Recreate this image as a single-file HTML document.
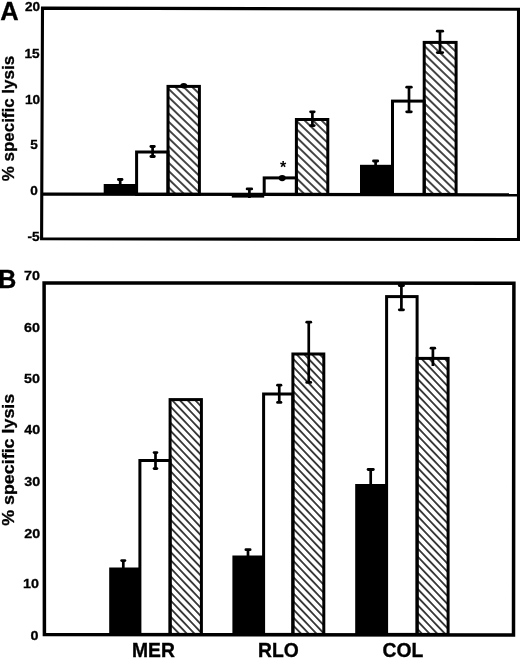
<!DOCTYPE html>
<html><head><meta charset="utf-8"><title>Figure</title>
<style>html,body{margin:0;padding:0;background:#fff}svg{display:block}text{font-family:"Liberation Sans",Arial,Helvetica,sans-serif;font-weight:bold;fill:#000}</style></head><body>
<svg width="520" height="660" viewBox="0 0 520 660">
<defs>
<pattern id="h1" width="5.9" height="5.9" patternUnits="userSpaceOnUse" patternTransform="translate(169.5 89.7) rotate(44)"><rect x="0" y="-0.72" width="5.9" height="1.45" fill="#000"/><rect x="0" y="5.18" width="5.9" height="1.45" fill="#000"/></pattern>
<pattern id="h2" width="5.9" height="5.9" patternUnits="userSpaceOnUse" patternTransform="translate(298.3 122.6) rotate(44)"><rect x="0" y="-0.72" width="5.9" height="1.45" fill="#000"/><rect x="0" y="5.18" width="5.9" height="1.45" fill="#000"/></pattern>
<pattern id="h3" width="5.9" height="5.9" patternUnits="userSpaceOnUse" patternTransform="translate(426.3 47.8) rotate(44)"><rect x="0" y="-0.72" width="5.9" height="1.45" fill="#000"/><rect x="0" y="5.18" width="5.9" height="1.45" fill="#000"/></pattern>
<pattern id="h4" width="5.57" height="5.57" patternUnits="userSpaceOnUse" patternTransform="translate(171.6 407.7) rotate(46.4)"><rect x="0" y="-0.72" width="5.57" height="1.45" fill="#000"/><rect x="0" y="4.85" width="5.57" height="1.45" fill="#000"/></pattern>
<pattern id="h5" width="5.57" height="5.57" patternUnits="userSpaceOnUse" patternTransform="translate(294.4 545.9) rotate(46.4)"><rect x="0" y="-0.72" width="5.57" height="1.45" fill="#000"/><rect x="0" y="4.85" width="5.57" height="1.45" fill="#000"/></pattern>
<pattern id="h6" width="5.57" height="5.57" patternUnits="userSpaceOnUse" patternTransform="translate(418.6 573.7) rotate(46.4)"><rect x="0" y="-0.72" width="5.57" height="1.45" fill="#000"/><rect x="0" y="4.85" width="5.57" height="1.45" fill="#000"/></pattern>
</defs>
<rect width="520" height="660" fill="#fff"/>
<g id="panelA">
<rect x="103.7" y="184" width="32.9" height="10.4" fill="#000"/>
<rect x="136.6" y="152" width="31.4" height="42.4" fill="#fff" stroke="#000" stroke-width="3"/>
<rect x="168" y="86.4" width="31.4" height="108" fill="url(#h1)" stroke="#000" stroke-width="3"/>
<rect x="231.8" y="194.4" width="32.4" height="3.2" fill="#000"/>
<rect x="264.2" y="177.9" width="32.2" height="16.5" fill="#fff" stroke="#000" stroke-width="3"/>
<rect x="296.4" y="119.5" width="31.4" height="74.9" fill="url(#h2)" stroke="#000" stroke-width="3"/>
<rect x="360" y="164.8" width="32.5" height="29.6" fill="#000"/>
<rect x="392.5" y="101.1" width="31.7" height="93.3" fill="#fff" stroke="#000" stroke-width="3"/>
<rect x="424.2" y="42.4" width="31.9" height="152" fill="url(#h3)" stroke="#000" stroke-width="3"/>
<polygon points="42.5,8.1 518.5,9.2 518.5,239.5 41.6,238.8" fill="none" stroke="#000" stroke-width="3.1"/>
<line x1="42.5" y1="194.1" x2="518.5" y2="194.8" stroke="#000" stroke-width="3.3"/>
<line x1="120.2" y1="179.5" x2="120.2" y2="185" stroke="#000" stroke-width="2.7"/>
<rect x="117" y="178.1" width="6.4" height="2.8" rx="1.4" ry="1.4" fill="#000"/>
<line x1="152.6" y1="146.5" x2="152.6" y2="156.5" stroke="#000" stroke-width="2.7"/>
<rect x="149.5" y="145.1" width="6.2" height="2.8" rx="1.4" ry="1.4" fill="#000"/>
<rect x="149.5" y="155.1" width="6.2" height="2.8" rx="1.4" ry="1.4" fill="#000"/>
<ellipse cx="183.75" cy="85.8" rx="3.5" ry="2.75" fill="#000"/>
<line x1="249.4" y1="188.9" x2="249.4" y2="198" stroke="#000" stroke-width="2.7"/>
<rect x="245.7" y="187.5" width="7.4" height="2.8" rx="1.4" ry="1.4" fill="#000"/>
<ellipse cx="282.2" cy="178.1" rx="3.5" ry="3.15" fill="#000"/>
<line x1="312.4" y1="111.8" x2="312.4" y2="125.6" stroke="#000" stroke-width="2.7"/>
<rect x="309.2" y="110.4" width="6.4" height="2.8" rx="1.4" ry="1.4" fill="#000"/>
<rect x="309.2" y="124.2" width="6.4" height="2.8" rx="1.4" ry="1.4" fill="#000"/>
<line x1="375.6" y1="161" x2="375.6" y2="166" stroke="#000" stroke-width="2.7"/>
<rect x="372.1" y="159.6" width="7" height="2.8" rx="1.4" ry="1.4" fill="#000"/>
<line x1="409" y1="87.2" x2="409" y2="111.8" stroke="#000" stroke-width="2.7"/>
<rect x="405.3" y="85.8" width="7.4" height="2.8" rx="1.4" ry="1.4" fill="#000"/>
<rect x="405.3" y="110.4" width="7.4" height="2.8" rx="1.4" ry="1.4" fill="#000"/>
<line x1="440" y1="31.2" x2="440" y2="52.6" stroke="#000" stroke-width="2.7"/>
<rect x="435.9" y="29.8" width="8.2" height="2.8" rx="1.4" ry="1.4" fill="#000"/>
<rect x="435.9" y="51.2" width="8.2" height="2.8" rx="1.4" ry="1.4" fill="#000"/>
<text x="283.1" y="172.9" font-size="16" text-anchor="middle">*</text>
<text x="0.2" y="19.7" font-size="25.5" stroke="#000" stroke-width="0.3">A</text>
<text transform="translate(40.1 10.86) scale(1.08 1)" font-size="12.6" text-anchor="end" stroke="#000" stroke-width="0.3">20</text>
<text transform="translate(39.6 57.61) scale(1.08 1)" font-size="12.6" text-anchor="end" stroke="#000" stroke-width="0.3">15</text>
<text transform="translate(40.1 104.01) scale(1.08 1)" font-size="12.6" text-anchor="end" stroke="#000" stroke-width="0.3">10</text>
<text transform="translate(37.8 149.21) scale(1.08 1)" font-size="12.6" text-anchor="end" stroke="#000" stroke-width="0.3">5</text>
<text transform="translate(37.9 195.31) scale(1.08 1)" font-size="12.6" text-anchor="end" stroke="#000" stroke-width="0.3">0</text>
<text transform="translate(39.5 241.21) scale(1.08 1)" font-size="12.6" text-anchor="end" stroke="#000" stroke-width="0.3">-5</text>
<text transform="translate(14.2 118.6) rotate(-90) scale(1.035 1)" font-size="16.4" text-anchor="middle" stroke="#000" stroke-width="0.3">% specific lysis</text>
</g>
<g id="panelB">
<rect x="109.2" y="567.5" width="30.7" height="66.9" fill="#000"/>
<rect x="139.9" y="460.5" width="30.2" height="173.9" fill="#fff" stroke="#000" stroke-width="3"/>
<rect x="170.1" y="399.6" width="31.3" height="234.8" fill="url(#h4)" stroke="#000" stroke-width="3"/>
<rect x="232.4" y="555.5" width="31.2" height="78.9" fill="#000"/>
<rect x="263.6" y="394" width="29.3" height="240.4" fill="#fff" stroke="#000" stroke-width="3"/>
<rect x="292.9" y="354" width="30.9" height="280.4" fill="url(#h5)" stroke="#000" stroke-width="3"/>
<rect x="355.2" y="484" width="31.4" height="150.4" fill="#000"/>
<rect x="386.6" y="296.6" width="30.5" height="337.8" fill="#fff" stroke="#000" stroke-width="3"/>
<rect x="417.1" y="358.4" width="31" height="276" fill="url(#h6)" stroke="#000" stroke-width="3"/>
<polygon points="44.1,282.9 513.9,283.3 513.5,635.1 44.4,634.6" fill="none" stroke="#000" stroke-width="3.5"/>
<line x1="123.3" y1="560.6" x2="123.3" y2="568" stroke="#000" stroke-width="2.7"/>
<rect x="120.3" y="559.2" width="6" height="2.8" rx="1.4" ry="1.4" fill="#000"/>
<line x1="155.5" y1="452.6" x2="155.5" y2="468.6" stroke="#000" stroke-width="2.7"/>
<rect x="152.7" y="451.2" width="5.6" height="2.8" rx="1.4" ry="1.4" fill="#000"/>
<rect x="152.7" y="467.2" width="5.6" height="2.8" rx="1.4" ry="1.4" fill="#000"/>
<line x1="248" y1="549.7" x2="248" y2="556.5" stroke="#000" stroke-width="2.7"/>
<rect x="244.5" y="548.3" width="7" height="2.8" rx="1.4" ry="1.4" fill="#000"/>
<line x1="279.25" y1="385.2" x2="279.25" y2="402.4" stroke="#000" stroke-width="2.7"/>
<rect x="276.15" y="383.8" width="6.2" height="2.8" rx="1.4" ry="1.4" fill="#000"/>
<rect x="276.15" y="401" width="6.2" height="2.8" rx="1.4" ry="1.4" fill="#000"/>
<line x1="308.75" y1="322.2" x2="308.75" y2="382.4" stroke="#000" stroke-width="2.7"/>
<rect x="305.35" y="320.8" width="6.8" height="2.8" rx="1.4" ry="1.4" fill="#000"/>
<rect x="305.35" y="381" width="6.8" height="2.8" rx="1.4" ry="1.4" fill="#000"/>
<line x1="370.7" y1="469.5" x2="370.7" y2="485" stroke="#000" stroke-width="2.7"/>
<rect x="366.7" y="468.1" width="8" height="2.8" rx="1.4" ry="1.4" fill="#000"/>
<line x1="401.4" y1="285.5" x2="401.4" y2="309.8" stroke="#000" stroke-width="2.7"/>
<rect x="397.9" y="284.1" width="7" height="2.8" rx="1.4" ry="1.4" fill="#000"/>
<rect x="397.9" y="308.4" width="7" height="2.8" rx="1.4" ry="1.4" fill="#000"/>
<line x1="432.9" y1="348.2" x2="432.9" y2="366" stroke="#000" stroke-width="2.7"/>
<rect x="429.65" y="346.8" width="6.5" height="2.8" rx="1.4" ry="1.4" fill="#000"/>
<text x="16.3" y="288" font-size="25" text-anchor="end" stroke="#000" stroke-width="0.3">B</text>
<text transform="translate(40 280.3) scale(1.07 1)" font-size="13.4" text-anchor="end" stroke="#000" stroke-width="0.3">70</text>
<text transform="translate(39.9 331.8) scale(1.07 1)" font-size="13.4" text-anchor="end" stroke="#000" stroke-width="0.3">60</text>
<text transform="translate(39.9 383) scale(1.07 1)" font-size="13.4" text-anchor="end" stroke="#000" stroke-width="0.3">50</text>
<text transform="translate(40.2 434.3) scale(1.07 1)" font-size="13.4" text-anchor="end" stroke="#000" stroke-width="0.3">40</text>
<text transform="translate(40.2 486.4) scale(1.07 1)" font-size="13.4" text-anchor="end" stroke="#000" stroke-width="0.3">30</text>
<text transform="translate(40.2 538.1) scale(1.07 1)" font-size="13.4" text-anchor="end" stroke="#000" stroke-width="0.3">20</text>
<text transform="translate(38.9 588.2) scale(1.07 1)" font-size="13.4" text-anchor="end" stroke="#000" stroke-width="0.3">10</text>
<text transform="translate(38.4 639.8) scale(1.07 1)" font-size="13.4" text-anchor="end" stroke="#000" stroke-width="0.3">0</text>
<text transform="translate(14.2 459.8) rotate(-90) scale(1.034 1)" font-size="17.3" text-anchor="middle" stroke="#000" stroke-width="0.3">% specific lysis</text>
<text x="153.45" y="656.8" font-size="19.3" text-anchor="middle" stroke="#000" stroke-width="0.35">MER</text>
<text x="278.35" y="656.8" font-size="19.3" text-anchor="middle" stroke="#000" stroke-width="0.35">RLO</text>
<text x="402.95" y="656.8" font-size="19.3" text-anchor="middle" stroke="#000" stroke-width="0.35">COL</text>
</g>
</svg></body></html>
